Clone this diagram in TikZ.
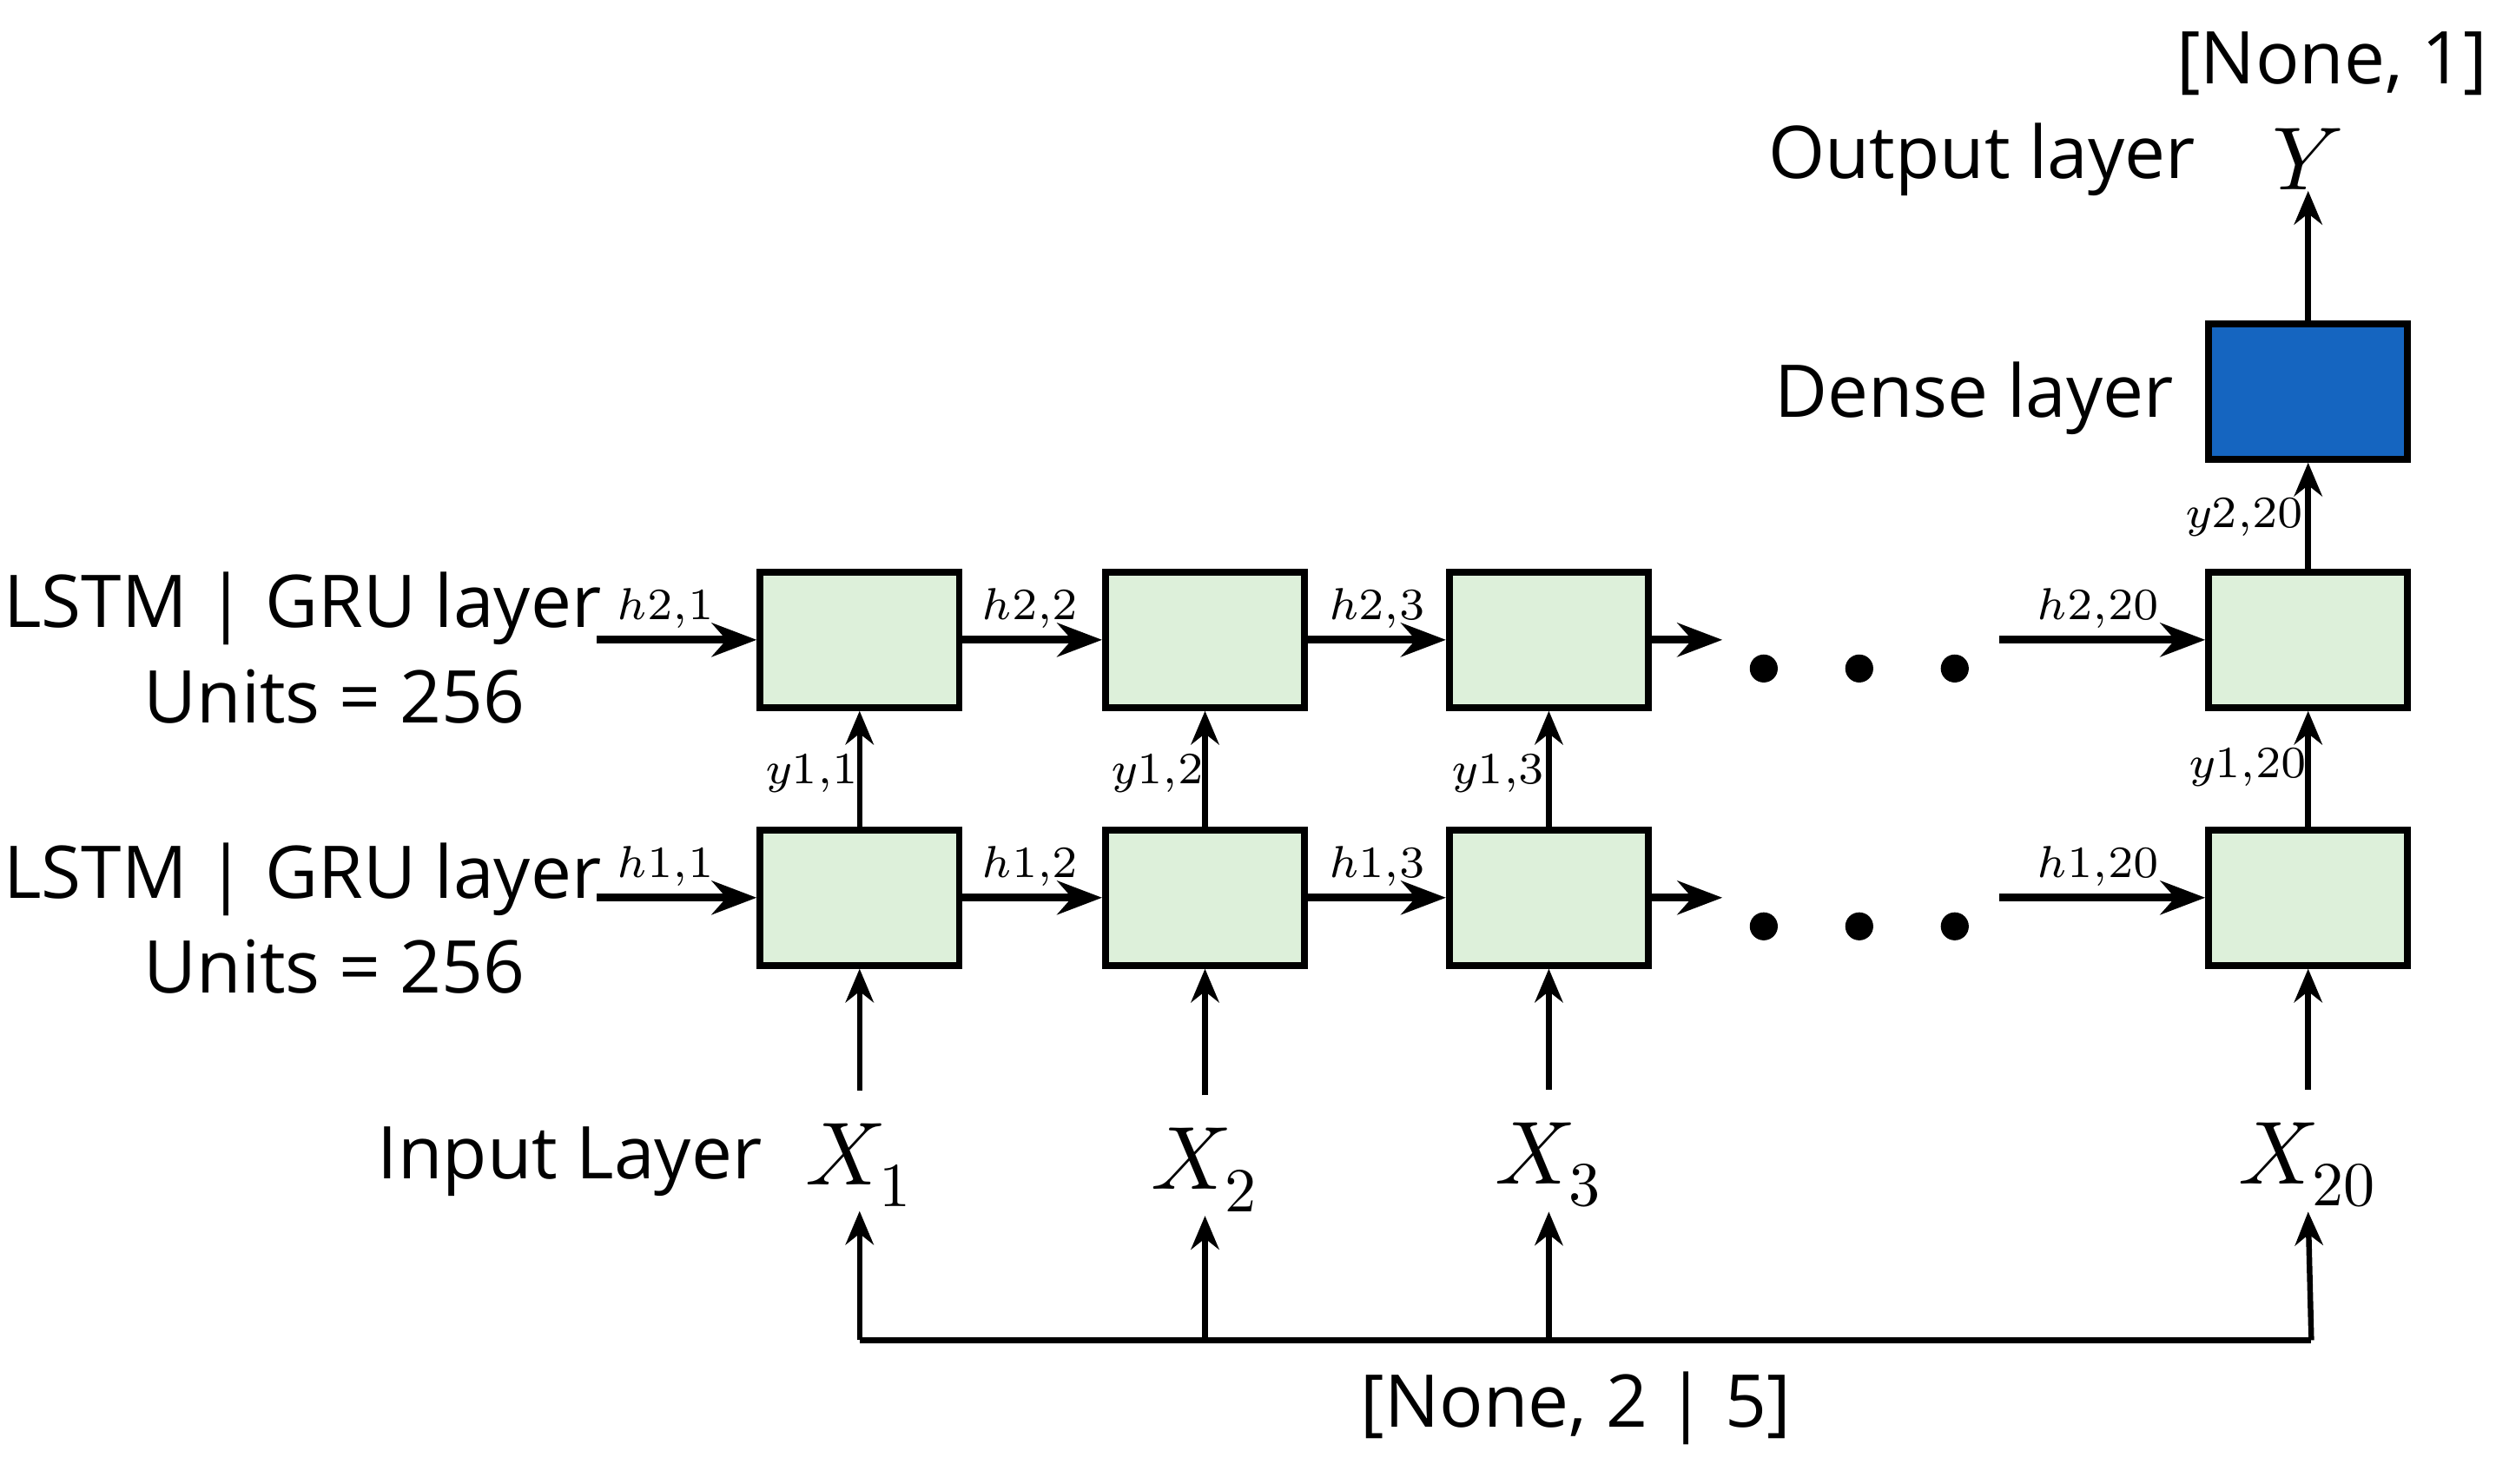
\documentclass[tikz,border=0pt]{standalone}
\usepackage{fontspec}
\setmainfont{Open Sans}
\usepackage{unicode-math}
\usetikzlibrary{arrows.meta}
\definecolor{cellgreen}{HTML}{DDF0DA}
\definecolor{denseblue}{HTML}{1565C0}
\tikzset{
  cell/.style={draw=black, line width=1.2pt, fill=cellgreen, minimum width=1.25cm, minimum height=0.85cm, inner sep=0pt},
  dense/.style={cell, fill=denseblue},
  lbl/.style={font=\fontsize{13}{15}\selectfont, inner sep=0pt},
  xlbl/.style={font=\fontsize{16}{18}\selectfont, inner sep=0pt},
  hlbl/.style={font=\fontsize{8}{9}\selectfont, inner sep=0pt},
  arr/.style={-{Stealth[length=6pt,width=5pt]}, line width=1pt},
  big/.style={-{Stealth[length=8pt,width=6pt]}, line width=1.4pt},
  dot/.style={circle, fill=black, minimum size=5pt, inner sep=0pt}
}
\begin{document}
\begin{tikzpicture}[x=0.01cm, y=-0.01cm]
  \useasboundingbox (0,0) rectangle (1568,932);
  % cells
  \node[cell] (a1) at (540,564) {};
  \node[cell] (b1) at (757,564) {};
  \node[cell] (c1) at (973,564) {};
  \node[cell] (d1) at (1450,564) {};
  \node[cell] (a2) at (540,402) {};
  \node[cell] (b2) at (757,402) {};
  \node[cell] (c2) at (973,402) {};
  \node[cell] (d2) at (1450,402) {};
  \node[dense] (dn) at (1450,246) {};
  % inputs
  \node[xlbl] (x1) at (540,732) {$X_1$};
  \node[xlbl] (x2) at (757,735) {$X_2$};
  \node[xlbl] (x3) at (973,732) {$X_3$};
  \node[xlbl] (x4) at (1450,732) {$X_{20}$};
  \node[lbl] (inl) at (358,730) {Input Layer};
  \node[lbl] (shp) at (990,885) {[None, 2 | 5]};
  \node[xlbl] (y) at (1450,100) {$Y$};
  \node[lbl] (outl) at (1245,100) {Output layer};
  \node[lbl] (osh) at (1465,40) {[None, 1]};
  \node[lbl] (dl) at (1240,250) {Dense layer};
  \node[lbl, align=center] (l2) at (190,407) {LSTM | GRU layer\\[2pt]\hspace*{0.4cm}Units = 256};
  \node[lbl, align=center] (l1) at (190,577) {LSTM | GRU layer\\[2pt]\hspace*{0.4cm}Units = 256};
  % bottom bus
  \coordinate (s1) at (540,842);
  \coordinate (s2) at (757,842);
  \coordinate (s3) at (973,842);
  \coordinate (s4) at (1452,842);
  \draw[line width=1pt] (s1) -- (s4);
  \foreach \i/\n in {s1/x1,s2/x2,s3/x3,s4/x4}
    \draw[arr] (\i) -- ([yshift=-0.02cm]\n.south);
  \foreach \n/\c in {x1/a1,x2/b1,x3/c1,x4/d1}
    \draw[arr] ([yshift=0.2cm]\n.north) -- (\c.south);
  % vertical
  \foreach \p/\q in {a1/a2,b1/b2,c1/c2,d1/d2,d2/dn}
    \draw[arr] (\p) -- (\q.south);
  \draw[arr] (dn) -- (y.south);
  \node[hlbl] at (510,486) {$y1{,}1$};
  \node[hlbl] at (727,486) {$y1{,}2$};
  \node[hlbl] at (941,486) {$y1{,}3$};
  \node[hlbl] at (1412,482) {$y1{,}20$};
  \node[hlbl] at (1410,325) {$y2{,}20$};
  % horizontal
  \foreach \r/\yy in {1/564,2/402}{
    \coordinate (in\r) at (375,\yy);
    \coordinate (e\r) at (1082,\yy);
    \coordinate (f\r) at (1256,\yy);
    \draw[big] (in\r) -- (a\r.west);
    \draw[big] (a\r) -- (b\r.west);
    \draw[big] (b\r) -- (c\r.west);
    \draw[big] (c\r.east) -- (e\r);
    \draw[big] (f\r) -- (d\r.west);
    \foreach \dx in {1108,1168,1228}
      \node[dot] at (\dx,\yy+18) {};
    \node[hlbl] at (418,\yy-20) {$h\r{,}1$};
    \node[hlbl] at (647,\yy-20) {$h\r{,}2$};
    \node[hlbl] at (865,\yy-20) {$h\r{,}3$};
    \node[hlbl] at (1318,\yy-20) {$h\r{,}20$};
  }
\end{tikzpicture}
\end{document}
